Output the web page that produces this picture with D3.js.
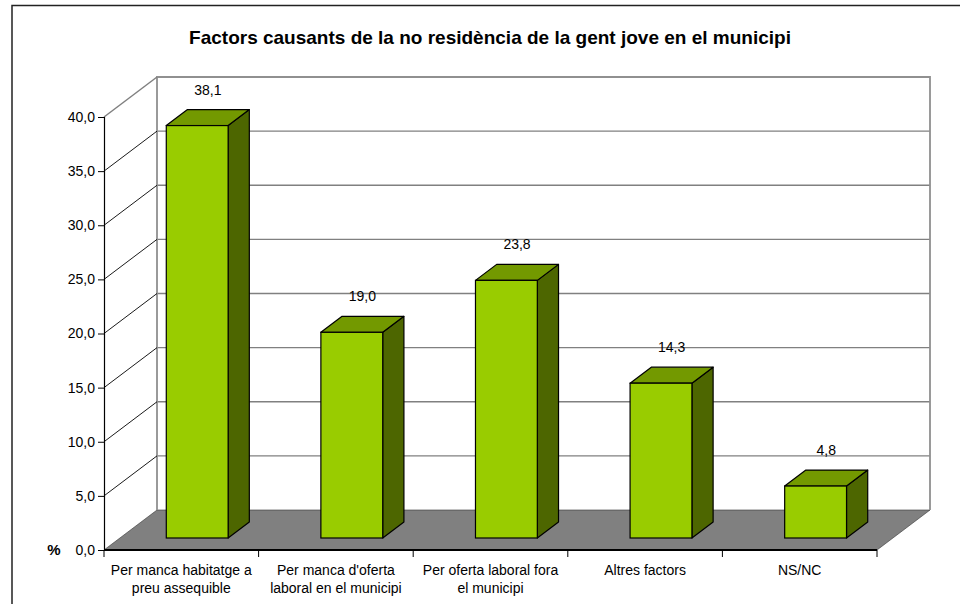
<!DOCTYPE html>
<html><head><meta charset="utf-8">
<script src="https://cdn.jsdelivr.net/npm/d3@7"></script>
<style>body{margin:0;background:#fff}svg{display:block;font-family:"Liberation Sans",Arial,sans-serif}</style>
</head><body>
<svg id="c" width="960" height="604"></svg>
<script>
const title = "Factors causants de la no residència de la gent jove en el municipi";
const categories = [
  ["Per manca habitatge a", "preu assequible"],
  ["Per manca d'oferta", "laboral en el municipi"],
  ["Per oferta laboral fora", "el municipi"],
  ["Altres factors"],
  ["NS/NC"]
];
const values = [38.1, 19.0, 23.8, 14.3, 4.8];
const yTicks = [0, 5, 10, 15, 20, 25, 30, 35, 40];
const yLabel = "%";

const svg = d3.select("#c");
const fmt = v => v.toFixed(1).replace(".", ",");

// geometry
const x0 = 104, x1 = 877, yBase = 550, yTop = 117;
const DX = 53, DY = 40;           // depth offset of the floor / walls
const fFront = 0.3, fDepth = 0.4; // bar position within depth

const x = d3.scaleBand().domain(d3.range(values.length)).range([x0, x1])
  .paddingInner(0.6).paddingOuter(0.3);
const y = d3.scaleLinear().domain([0, 40]).range([yBase, yTop]);

// outer frame
svg.append("path").attr("d", `M12,606 L12,5.5 L962,5.5`).attr("fill", "none")
  .attr("stroke", "#222").attr("stroke-width", 1.5);

// title
svg.append("text").attr("x", 490).attr("y", 44).attr("text-anchor", "middle")
  .attr("font-size", 19).attr("font-weight", "bold").text(title);

// floor
svg.append("path")
  .attr("d", `M${x0},${yBase} L${x0+DX},${yBase-DY} L${x1+DX},${yBase-DY} L${x1},${yBase} Z`)
  .attr("fill", "#808080").attr("stroke", "#333").attr("stroke-width", 0.6);

// back wall gridlines
svg.append("g").selectAll("line").data(yTicks.filter(t => t > 0 && t < 40)).join("line")
  .attr("x1", x0 + DX).attr("x2", x1 + DX)
  .attr("y1", d => y(d) - DY).attr("y2", d => y(d) - DY)
  .attr("stroke", "#808080").attr("stroke-width", 1.3);

// back wall border
svg.append("path")
  .attr("d", `M${x0+DX},${yBase-DY} L${x0+DX},${y(40)-DY} L${x1+DX},${y(40)-DY} L${x1+DX},${yBase-DY}`)
  .attr("fill", "none").attr("stroke", "#909090").attr("stroke-width", 1.8);

// side wall diagonals
svg.append("g").selectAll("line").data(yTicks.filter(t => t > 0)).join("line")
  .attr("x1", x0).attr("y1", d => y(d))
  .attr("x2", x0 + DX).attr("y2", d => y(d) - DY)
  .attr("stroke", d => d === 40 ? "#808080" : "#000").attr("stroke-width", d => d === 40 ? 1.5 : 0.9);

// y axis
const yAxis = d3.axisLeft(y).tickValues(yTicks).tickSize(6).tickPadding(3).tickFormat(fmt);
const ga = svg.append("g").attr("transform", `translate(${x0},0)`).call(yAxis);
ga.select(".domain").attr("stroke", "#000").attr("stroke-width", 1.2);
ga.selectAll(".tick line").attr("stroke", "#000");
ga.selectAll("text").attr("font-size", 14).attr("fill", "#000")
  .attr("font-family", "'Liberation Sans',Arial,sans-serif");

svg.append("text").attr("x", 54).attr("y", 555).attr("text-anchor", "middle")
  .attr("font-size", 15).attr("font-weight", "bold").text(yLabel);

// x axis baseline and ticks
svg.append("line").attr("x1", x0).attr("x2", x1).attr("y1", yBase).attr("y2", yBase)
  .attr("stroke", "#000").attr("stroke-width", 2);
svg.append("g").selectAll("line").data(d3.range(values.length + 1)).join("line")
  .attr("x1", i => x0 + (x1 - x0) * i / values.length)
  .attr("x2", i => x0 + (x1 - x0) * i / values.length)
  .attr("y1", yBase).attr("y2", yBase + 7).attr("stroke", "#000");

// x labels
const xl = svg.append("g").selectAll("text").data(categories).join("text")
  .attr("x", (d, i) => x(i) + x.bandwidth() / 2)
  .attr("y", 575).attr("text-anchor", "middle").attr("font-size", 14);
xl.selectAll("tspan").data(d => d).join("tspan")
  .attr("x", function () { return d3.select(this.parentNode).attr("x"); })
  .attr("dy", (d, j) => j === 0 ? 0 : 18).text(d => d);

// bars
const fdx = DX * fFront, fdy = DY * fFront, ddx = DX * fDepth, ddy = DY * fDepth;
const bars = svg.append("g").selectAll("g").data(values).join("g");
bars.each(function (v, i) {
  const g = d3.select(this);
  const xl_ = x(i) + fdx, xr = xl_ + x.bandwidth();
  const yb = y(0) - fdy, yt = y(v) - fdy;
  // side
  g.append("path").attr("d", `M${xr},${yb} L${xr+ddx},${yb-ddy} L${xr+ddx},${yt-ddy} L${xr},${yt} Z`)
    .attr("fill", "#4d6600").attr("stroke", "#000").attr("stroke-width", 1.2).attr("stroke-linejoin", "round");
  // top
  g.append("path").attr("d", `M${xl_},${yt} L${xl_+ddx},${yt-ddy} L${xr+ddx},${yt-ddy} L${xr},${yt} Z`)
    .attr("fill", "#739900").attr("stroke", "#000").attr("stroke-width", 1.2).attr("stroke-linejoin", "round");
  // front
  g.append("rect").attr("x", xl_).attr("y", yt).attr("width", x.bandwidth()).attr("height", yb - yt)
    .attr("fill", "#99cc00").attr("stroke", "#000").attr("stroke-width", 1.2);
  // value label
  g.append("text").attr("x", xl_ + x.bandwidth() / 2 + ddx / 2).attr("y", yt - ddy - 15)
    .attr("text-anchor", "middle").attr("font-size", 14).text(fmt(v));
});
</script>
</body></html>
